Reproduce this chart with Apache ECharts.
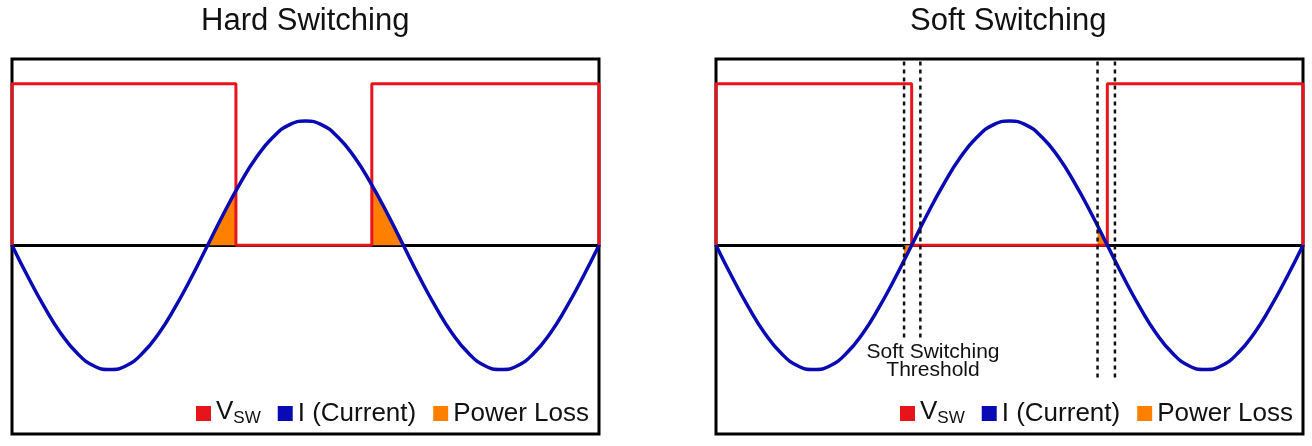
<!DOCTYPE html>
<html>
<head>
<meta charset="utf-8">
<script src="https://cdn.jsdelivr.net/npm/echarts@6/dist/echarts.min.js"></script>
<style>
  html, body { margin: 0; padding: 0; background: #fff; }
  #chart { width: 1312px; height: 446px; }
</style>
</head>
<body>
<div id="chart"></div>
<script>
// phase in degrees, current in units of its peak
var phase = [0, 15, 30, 45, 60, 75, 90, 105, 120, 135, 150, 165, 180, 195, 210, 225, 240, 255, 270,
  285, 300, 315, 330, 345, 360, 375, 390, 405, 420, 435, 450, 465, 480, 495, 510, 525, 540]
var current = [0, -0.26, -0.5, -0.71, -0.87, -0.97, -1, -0.97, -0.87, -0.71, -0.5, -0.26, 0, 0.26, 0.5, 0.71, 0.87, 0.97, 1,
  0.97, 0.87, 0.71, 0.5, 0.26, 0, -0.26, -0.5, -0.71, -0.87, -0.97, -1, -0.97, -0.87, -0.71, -0.5, -0.26, 0]

// switch voltage outline
var vHigh = 1.3
var hardVsw = [[0, 0], [0, vHigh], [206, vHigh], [206, 0], [331, 0], [331, vHigh], [540, vHigh], [540, 0]]
var softVsw = [[0, 0], [0, vHigh], [180, vHigh], [180, 0], [360, 0], [360, vHigh], [540, vHigh], [540, 0]]

// power loss patches (current under the switching edge)
var hardLossA = [[180, 0], [195, 0.26], [206, 0.44]]
var hardLossB = [[331, 0.48], [345, 0.26], [360, 0]]
var softLossA = [[173, -0.12], [180, 0]]
var softLossB = [[351, 0.16], [360, 0]]

// soft switching threshold markers
var thresholdX = [173, 188, 351, 367]
var thresholdTop = [1.48, 1.48, 1.48, 1.48]
var thresholdBottom = [-0.77, -0.77, -1.07, -1.07]

var RED = '#e8141c'
var BLUE = '#0a0ab4'
var ORANGE = '#ff8000'
var FONT = '"Liberation Sans", Arial, sans-serif'

var currentData = phase.map(function (p, i) { return [p, current[i]] })

function lossSeries(data, idx) {
  return {
    name: 'Power Loss', type: 'line', xAxisIndex: idx, yAxisIndex: idx,
    data: data, symbol: 'none', color: ORANGE,
    lineStyle: { width: 0 }, areaStyle: { color: ORANGE, opacity: 1 }, z: 1
  }
}
function vswSeries(data, idx) {
  return {
    name: 'VSW', type: 'line', xAxisIndex: idx, yAxisIndex: idx,
    data: data, symbol: 'none', color: RED, clip: false,
    lineStyle: { width: 3, color: RED }, z: 2
  }
}
function currentSeries(idx) {
  return {
    name: 'I (Current)', type: 'line', xAxisIndex: idx, yAxisIndex: idx,
    data: currentData, symbol: 'none', smooth: true, color: BLUE,
    lineStyle: { width: 3.5, color: BLUE }, z: 3
  }
}

var series = [
  lossSeries(hardLossA, 0), lossSeries(hardLossB, 0), vswSeries(hardVsw, 0), currentSeries(0),
  lossSeries(softLossA, 1), lossSeries(softLossB, 1), vswSeries(softVsw, 1), currentSeries(1)
]
thresholdX.forEach(function (x, i) {
  series.push({
    name: 'threshold', type: 'line', xAxisIndex: 1, yAxisIndex: 1,
    data: [[x, thresholdTop[i]], [x, thresholdBottom[i]]], symbol: 'none', clip: false,
    lineStyle: { width: 2.5, color: '#111', type: [4, 4] }, z: 4, silent: true
  })
})

function xAx(idx) {
  return {
    type: 'value', gridIndex: idx, min: 0, max: 540,
    axisLine: { show: true, onZero: true, lineStyle: { color: '#000', width: 3 } },
    axisTick: { show: false }, axisLabel: { show: false }, splitLine: { show: false }
  }
}
function yAx(idx) {
  return { type: 'value', gridIndex: idx, min: -1.52, max: 1.5, show: false, splitLine: { show: false } }
}
function legend(left) {
  return {
    left: left, top: 399, padding: 0, icon: 'rect', itemWidth: 15, itemHeight: 15, itemGap: 17,
    data: ['VSW', 'I (Current)', 'Power Loss'],
    formatter: function (name) { return name === 'VSW' ? '{v|V}{s|SW}' : name },
    textStyle: {
      fontSize: 26, color: '#111', fontFamily: FONT,
      rich: {
        v: { fontSize: 26, lineHeight: 26, padding: [0, 0, 3, 0], fontFamily: FONT, color: '#111' },
        s: { fontSize: 17, lineHeight: 17, verticalAlign: 'bottom', fontFamily: FONT, color: '#111' }
      }
    }
  }
}

var chart = echarts.init(document.getElementById('chart'))
chart.setOption({
  animation: false,
  backgroundColor: '#fff',
  title: [
    { text: 'Hard Switching', left: 201, top: 6, padding: 0, textStyle: { fontSize: 31, fontWeight: 'normal', color: '#111', fontFamily: FONT } },
    { text: 'Soft Switching', left: 910, top: 6, padding: 0, textStyle: { fontSize: 31, fontWeight: 'normal', color: '#111', fontFamily: FONT } }
  ],
  legend: [legend(196), legend(900)],
  grid: [
    { left: 12, right: 713, top: 59, bottom: 12, show: true, borderColor: '#000', borderWidth: 3, backgroundColor: 'transparent' },
    { left: 716, right: 9, top: 59, bottom: 12, show: true, borderColor: '#000', borderWidth: 3, backgroundColor: 'transparent' }
  ],
  xAxis: [xAx(0), xAx(1)],
  yAxis: [yAx(0), yAx(1)],
  graphic: [{
    type: 'text', x: 933, y: 343,
    style: { text: 'Soft Switching\nThreshold', font: '21px ' + FONT, fill: '#111', align: 'center', verticalAlign: 'top', lineHeight: 18 }
  }],
  series: series
})
</script>
</body>
</html>
